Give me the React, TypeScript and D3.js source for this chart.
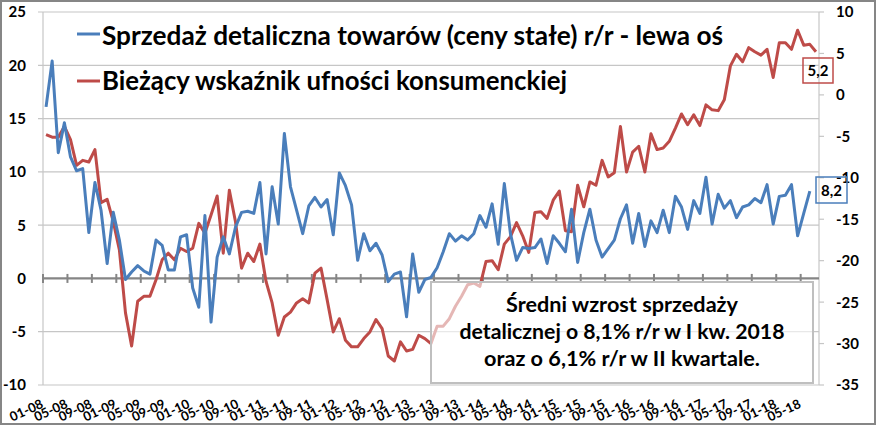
import React from 'react';
import * as d3 from 'd3';

const W = 876;
const H = 425;

// Retail sales of goods (constant prices), y/y %, 01-08 .. 06-18 (left axis)
const salesYoY = [
  16.1, 20.4, 11.8, 14.6, 11.4, 10.1, 10.3, 4.3, 9.0, 6.4, 1.4, 6.2,
  3.6, -0.1, 0.6, 1.2, 0.7, 0.4, 3.6, 3.1, 0.8, 0.8, 3.9, 4.1,
  -0.9, -2.7, 5.9, -4.1, 2.0, 3.9, 2.3, 4.8, 6.2, 6.3, 6.1, 9.0,
  2.3, 8.6, 5.1, 13.6, 8.6, 6.4, 4.2, 6.8, 7.6, 6.7, 7.4, 4.1,
  9.9, 8.7, 6.9, 1.7, 4.2, 2.6, 3.3, 2.2, -0.3, 0.4, 0.6, -3.6,
  2.3, -1.3, -0.1, 0.1, 1.0, 2.5, 4.2, 3.5, 4.0, 3.6, 4.2, 5.9,
  4.8, 7.0, 3.2, 8.9, 4.2, 1.7, 2.9, 2.8, 2.9, 3.7, 1.4, 4.0,
  3.3, 2.5, 6.5, 1.5, 4.3, 6.5, 3.6, 2.0, 2.8, 3.6, 5.6, 6.9,
  3.3, 6.1, 3.0, 5.4, 4.3, 6.4, 4.3, 7.7, 6.7, 4.6, 7.3, 6.1,
  9.5, 5.1, 7.9, 6.6, 7.3, 5.7, 6.7, 6.9, 7.5, 7.1, 8.8, 5.1,
  7.7, 7.8, 8.8, 4.0, 6.1, 8.2,
];

// Current consumer confidence indicator, 01-08 .. 07-18 (right axis)
const consumerConfidence = [
  -4.8, -5.1, -5.1, -3.8, -5.4, -8.5, -7.9, -8.1, -6.6, -13.0, -12.6, -15.3,
  -18.7, -26.3, -30.3, -24.9, -24.3, -24.3, -22.3, -19.9, -19.1, -19.9, -18.5, -18.9,
  -18.5, -15.5, -16.7, -14.5, -12.2, -19.1, -11.5, -15.3, -20.9, -19.1, -20.1, -18.0,
  -22.5, -25.1, -29.0, -26.8, -26.2, -25.1, -24.6, -25.1, -21.5, -20.9, -24.7, -28.6,
  -27.0, -29.6, -30.4, -30.4, -29.4, -28.6, -27.1, -28.2, -31.5, -32.1, -29.8, -30.9,
  -30.7, -29.0, -29.4, -30.0, -27.9, -27.9, -27.0, -25.5, -24.3, -22.9, -22.7, -23.1,
  -20.1, -20.0, -21.1, -18.0, -17.1, -15.4, -17.0, -19.0, -14.2, -14.1, -14.9, -12.7,
  -11.6, -16.4, -16.5, -10.9, -13.5, -10.5, -10.9, -7.9, -9.9, -9.4, -3.8, -9.3,
  -6.9, -6.2, -9.3, -4.7, -6.6, -6.4, -5.6, -4.0, -2.3, -3.6, -2.4, -3.7,
  -1.2, -1.8, -1.9, -0.6, 3.5, 4.9, 4.0, 5.7, 5.2, 4.8, 5.5, 2.1,
  6.3, 6.3, 5.5, 7.8, 6.0, 6.1, 5.2,
];

const N_CATEGORIES = 127;

const xTickLabels = [
  '01-08', '05-08', '09-08', '01-09', '05-09', '09-09', '01-10', '05-10',
  '09-10', '01-11', '05-11', '09-11', '01-12', '05-12', '09-12', '01-13',
  '05-13', '09-13', '01-14', '05-14', '09-14', '01-15', '05-15', '09-15',
  '01-16', '05-16', '09-16', '01-17', '05-17', '09-17', '01-18', '05-18',
];

const leftTicks = [25, 20, 15, 10, 5, 0, -5, -10];
const rightTicks = [10, 5, 0, -5, -10, -15, -20, -25, -30, -35];

const legendLabels = [
  'Sprzedaż detaliczna towarów (ceny stałe) r/r - lewa oś',
  'Bieżący wskaźnik ufności konsumenckiej',
];

const noteLines = [
  'Średni wzrost sprzedaży',
  'detalicznej o 8,1% r/r w I kw. 2018',
  'oraz o 6,1% r/r w II kwartale.',
];

const BLUE = '#4a7ebb';
const RED = '#be4b48';
const FONT = 'Lato, "Open Sans", sans-serif';

export default function App() {
  const x = d3.scaleBand<number>().domain(d3.range(N_CATEGORIES)).range([43, 819]);
  const bw = x.bandwidth();
  const cx = (i: number) => (x(i) as number) + bw / 2;
  const yL = d3.scaleLinear().domain([-10, 25]).range([385, 12]);
  const yR = d3.scaleLinear().domain([-35, 10]).range([385, 12]);

  const lineL = d3.line<number>().x((_, i) => cx(i)).y((d) => yL(d));
  const lineR = d3.line<number>().x((_, i) => cx(i)).y((d) => yR(d));

  const lastBlueI = salesYoY.length - 1;
  const lastRedI = consumerConfidence.length - 1;

  return (
    <div style={{ position: 'absolute', left: 0, top: 0 }}>
      <svg width={W} height={H} style={{ display: 'block', background: '#fff' }} fontFamily={FONT}>
        <rect x={0} y={0} width={W} height={H} fill="#fff" />
        {/* gridlines */}
        {leftTicks.filter((t) => t !== 0).map((t) => (
          <line key={'g' + t} x1={38} x2={819} y1={yL(t)} y2={yL(t)} stroke="#c6c6c6" strokeWidth={1.2} />
        ))}
        {/* left axis line */}
        <line x1={43} x2={43} y1={12} y2={385} stroke="#c6c6c6" strokeWidth={1.2} />
        {/* right axis line and ticks */}
        <line x1={819} x2={819} y1={12} y2={385} stroke="#c6c6c6" strokeWidth={1.2} />
        {rightTicks.map((t) => (
          <line key={'rt' + t} x1={819} x2={824} y1={yR(t)} y2={yR(t)} stroke="#c6c6c6" strokeWidth={1.2} />
        ))}
        {/* left tick labels */}
        {leftTicks.map((t) => (
          <text key={'lt' + t} x={26} y={yL(t)} dy="0.36em" textAnchor="end" fontSize={15} fontWeight={700} fill="#000">
            {t}
          </text>
        ))}
        {/* right tick labels */}
        {rightTicks.map((t) => (
          <text key={'rl' + t} x={836} y={yR(t)} dy="0.36em" textAnchor="start" fontSize={15} fontWeight={700} fill="#000">
            {t}
          </text>
        ))}
        {/* x axis at zero */}
        <line x1={43} x2={819} y1={yL(0)} y2={yL(0)} stroke="#858585" strokeWidth={2.2} />
        {xTickLabels.map((lab, k) => {
          const i = k * 4;
          const tx = x(i) as number;
          return (
            <line key={'xt' + k} x1={tx} x2={tx} y1={yL(0) - 4.5} y2={yL(0) + 4.5} stroke="#858585" strokeWidth={2} />
          );
        })}
        {/* x tick labels */}
        {xTickLabels.map((lab, k) => {
          const i = k * 4;
          return (
            <text
              key={'xl' + k}
              transform={`translate(${cx(i) - 2},${407}) rotate(-25)`}
              textAnchor="end"
              fontSize={13}
              fontWeight={700}
              fill="#000"
            >
              {lab}
            </text>
          );
        })}
        {/* series */}
        <path d={lineR(consumerConfidence) || ''} fill="none" stroke={RED} strokeWidth={3} strokeLinejoin="round" />
        <path d={lineL(salesYoY) || ''} fill="none" stroke={BLUE} strokeWidth={3} strokeLinejoin="round" />

        {/* legend */}
        <line x1={77} x2={100} y1={34} y2={34} stroke={BLUE} strokeWidth={3} />
        <text x={102} y={45} fontSize={26} fontWeight={700} fill="#000" textLength={621} lengthAdjust="spacingAndGlyphs">
          {legendLabels[0]}
        </text>
        <line x1={77} x2={100} y1={81} y2={81} stroke={RED} strokeWidth={3} />
        <text x={102} y={90} fontSize={26} fontWeight={700} fill="#000" textLength={465} lengthAdjust="spacingAndGlyphs">
          {legendLabels[1]}
        </text>

        {/* data labels */}
        <rect x={803} y={58} width={30} height={25} fill="none" stroke={RED} strokeWidth={1.5} />
        <text x={818} y={yR(consumerConfidence[lastRedI]) + 24} textAnchor="middle" fontSize={15} fontWeight={700} fill="#000">
          {String(consumerConfidence[lastRedI]).replace('.', ',')}
        </text>
        <rect x={816} y={177} width={31} height={26} fill="none" stroke={BLUE} strokeWidth={1.5} />
        <text x={831.5} y={yL(salesYoY[lastBlueI]) + 5} textAnchor="middle" fontSize={15} fontWeight={700} fill="#000">
          {String(salesYoY[lastBlueI]).replace('.', ',')}
        </text>

        {/* note box */}
        <rect x={431} y={282} width={382} height={101} fill="#fff" fillOpacity={0.6} stroke="#bfbfbf" strokeWidth={2} />
        {noteLines.map((l, k) => (
          <text
            key={'n' + k}
            x={622}
            y={312 + k * 27}
            textAnchor="middle"
            fontSize={20}
            fontWeight={700}
            fill="#000"
            textLength={[232, 325, 276][k]}
            lengthAdjust="spacingAndGlyphs"
          >
            {l}
          </text>
        ))}

        {/* outer border */}
        <rect x={1} y={1} width={W - 2} height={H - 2} fill="none" stroke="#868686" strokeWidth={2} />
      </svg>
    </div>
  );
}
